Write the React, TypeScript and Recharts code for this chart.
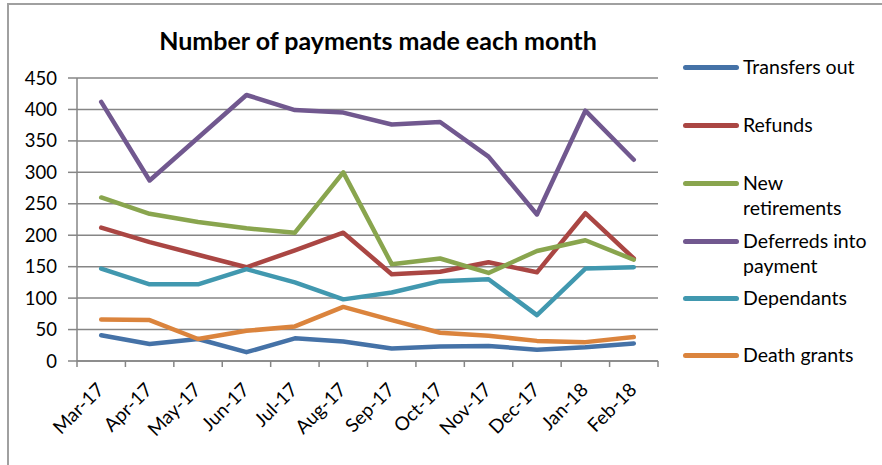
import { CartesianGrid, Line, LineChart, XAxis, YAxis } from "recharts";

const MONTHS = ["Mar-17", "Apr-17", "May-17", "Jun-17", "Jul-17", "Aug-17", "Sep-17", "Oct-17", "Nov-17", "Dec-17", "Jan-18", "Feb-18"];
const TRANSFERS_OUT = [41, 27, 35, 14, 36, 31, 20, 23, 24, 18, 22, 28];
const REFUNDS = [212, 189, 169, 149, 176, 204, 138, 142, 157, 141, 235, 163];
const NEW_RETIREMENTS = [260, 234, 221, 211, 204, 300, 154, 163, 140, 175, 192, 161];
const DEFERREDS = [412, 287, 355, 423, 399, 395, 376, 380, 325, 233, 398, 320];
const DEPENDANTS = [147, 122, 122, 146, 125, 98, 109, 127, 130, 73, 147, 149];
const DEATH_GRANTS = [66, 65, 35, 48, 55, 86, 65, 45, 40, 32, 30, 38];
const Y_TICKS = [0, 50, 100, 150, 200, 250, 300, 350, 400, 450];

const SERIES = [
  { key: "transfers", name: "Transfers out", lines: ["Transfers out"], values: TRANSFERS_OUT, color: "#4572A7" },
  { key: "refunds", name: "Refunds", lines: ["Refunds"], values: REFUNDS, color: "#AA4643" },
  { key: "retirements", name: "New retirements", lines: ["New", "retirements"], values: NEW_RETIREMENTS, color: "#89A54E" },
  { key: "deferreds", name: "Deferreds into payment", lines: ["Deferreds into", "payment"], values: DEFERREDS, color: "#71588F" },
  { key: "dependants", name: "Dependants", lines: ["Dependants"], values: DEPENDANTS, color: "#4198AF" },
  { key: "death", name: "Death grants", lines: ["Death grants"], values: DEATH_GRANTS, color: "#DB843D" },
];

const data = MONTHS.map((m, i) => {
  const row: Record<string, string | number> = { month: m };
  SERIES.forEach((s) => (row[s.key] = s.values[i]));
  return row;
});

const W = 882;
const H = 465;
const X_AXIS_H = 104;
const MARGIN = { top: 78, right: 224, bottom: 0, left: 0 };
const Y_AXIS_W = 77;
const PLOT_W = W - MARGIN.left - MARGIN.right - Y_AXIS_W;
const HALF_BAND = PLOT_W / MONTHS.length / 2;
const FONT = "Lato, 'Noto Sans', sans-serif";
const GRID = "#868686";
// y centre of each legend sample line
const LEGEND_Y = [67, 125, 183, 241, 298, 355];

function MonthTick(props: any) {
  const { x, y, payload, index } = props;
  const last = index === MONTHS.length - 1;
  const ax = x + 4;
  const ay = y + 22;
  return (
    <g>
      <line x1={x - HALF_BAND} x2={x - HALF_BAND} y1={y - 8} y2={y - 2} stroke={GRID} strokeWidth={1.5} />
      {last && <line x1={x + HALF_BAND} x2={x + HALF_BAND} y1={y - 8} y2={y - 2} stroke={GRID} strokeWidth={1.5} />}
      <text x={ax} y={ay} textAnchor="end" transform={`rotate(-45, ${ax}, ${ay})`} fontSize={19} fontFamily={FONT} fill="#000">
        {payload.value}
      </text>
    </g>
  );
}

export default function App() {
  return (
    <div style={{ position: "absolute", left: 0, top: 0, width: W, height: H, overflow: "hidden", background: "#fff" }}>
      <div style={{ position: "absolute", left: 7, top: 3, width: 1000, height: 1000, borderTop: "2px solid #a0a0a0", borderLeft: "2px solid #a0a0a0" }} />
      <div
        style={{
          position: "absolute",
          left: 0,
          width: 756,
          top: 25,
          textAlign: "center",
          fontFamily: FONT,
          fontWeight: 700,
          fontSize: 25,
          color: "#000",
        }}
      >
        Number of payments made each month
      </div>
      <div style={{ position: "absolute", left: 0, top: 0 }}>
        <LineChart width={W} height={H} data={data} margin={MARGIN}>
          <CartesianGrid vertical={false} stroke={GRID} strokeWidth={1.5} />
          <XAxis
            dataKey="month"
            interval={0}
            padding={{ left: HALF_BAND, right: HALF_BAND }}
            tickLine={false}
            stroke={GRID}
            strokeWidth={1.5}
            tick={<MonthTick />}
            height={X_AXIS_H}
          />
          <YAxis
            domain={[0, 450]}
            ticks={Y_TICKS}
            interval={0}
            width={Y_AXIS_W}
            tickSize={9}
            tickMargin={11}
            stroke={GRID}
            strokeWidth={1.5}
            tick={{ fontSize: 18.5, fontFamily: FONT, fill: "#000" }}
          />
          {SERIES.map((s) => (
            <Line
              key={s.key}
              type="linear"
              dataKey={s.key}
              name={s.name}
              stroke={s.color}
              strokeWidth={4.5}
              strokeLinejoin="round"
              strokeLinecap="round"
              dot={false}
              isAnimationActive={false}
            />
          ))}
        </LineChart>
      </div>
      {SERIES.map((s, i) => (
        <div key={s.key} style={{ position: "absolute", left: 683, top: LEGEND_Y[i] - 13 }}>
          <div style={{ position: "absolute", left: 0, top: 11, width: 56, height: 5, borderRadius: 3, background: s.color }} />
          <div style={{ position: "absolute", left: 60, top: 0, whiteSpace: "nowrap", fontSize: 19.5, lineHeight: "25px", fontFamily: FONT, color: "#000" }}>
            {s.lines.map((l) => (
              <div key={l}>{l}</div>
            ))}
          </div>
        </div>
      ))}
    </div>
  );
}
